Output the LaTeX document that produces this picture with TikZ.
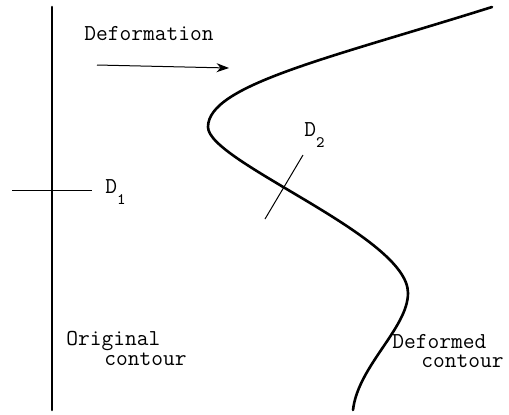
\documentclass[tikz,border=0pt]{standalone}
\usetikzlibrary{arrows.meta}
\newcommand{\lowidx}[1]{\raisebox{-0.5em}{\footnotesize #1}}

\begin{document}
\begin{tikzpicture}[
  x=0.5pt, y=-0.5pt,
  contour/.style={line width=1.3pt, line cap=round},
  marker/.style={line width=0.5pt},
  label/.style={anchor=base west, inner sep=0pt, font=\ttfamily\fontsize{11.4}{13}\selectfont},
  arrow/.style={-{Stealth[length=2.2mm, width=1.6mm]}, line width=0.5pt}
]
\useasboundingbox (0,0) rectangle (509,414);
% original contour and its marker
\coordinate (origtop) at (52,7);
\coordinate (origbot) at (52,410);
\draw[contour] (origtop) -- (origbot);
\coordinate (d1a) at (12,190);
\coordinate (d1b) at (92,190);
\draw[marker] (d1a) -- (d1b);
\node[label] (d1) at (105,193) {D\lowidx{1}};
% deformed contour
\coordinate (deftop) at (492,7);
\coordinate (defleft) at (208,127);
\coordinate (defright) at (408,293);
\coordinate (defbot) at (353,410);
\draw[contour] (deftop) .. controls (330,58) and (208,85) .. (defleft)
  .. controls (208,162) and (408,236) .. (defright)
  .. controls (408,328) and (358,366) .. (defbot);
\coordinate (d2a) at (303,155);
\coordinate (d2b) at (265,219);
\draw[marker] (d2a) -- (d2b);
\node[label] (d2) at (304,136) {D\lowidx{2}};
% deformation arrow
\node[label] (deform) at (84,40) {Deformation};
\coordinate (arrstart) at (97,65);
\coordinate (arrend) at (229,68);
\draw[arrow] (arrstart) -- (arrend);
% contour names
\node[label] (orig1) at (66,345) {Original};
\node[label] (orig2) at (104,365) {contour};
\node[label] (def1) at (392,348) {Deformed};
\node[label] (def2) at (421,367) {contour};
\end{tikzpicture}
\end{document}
